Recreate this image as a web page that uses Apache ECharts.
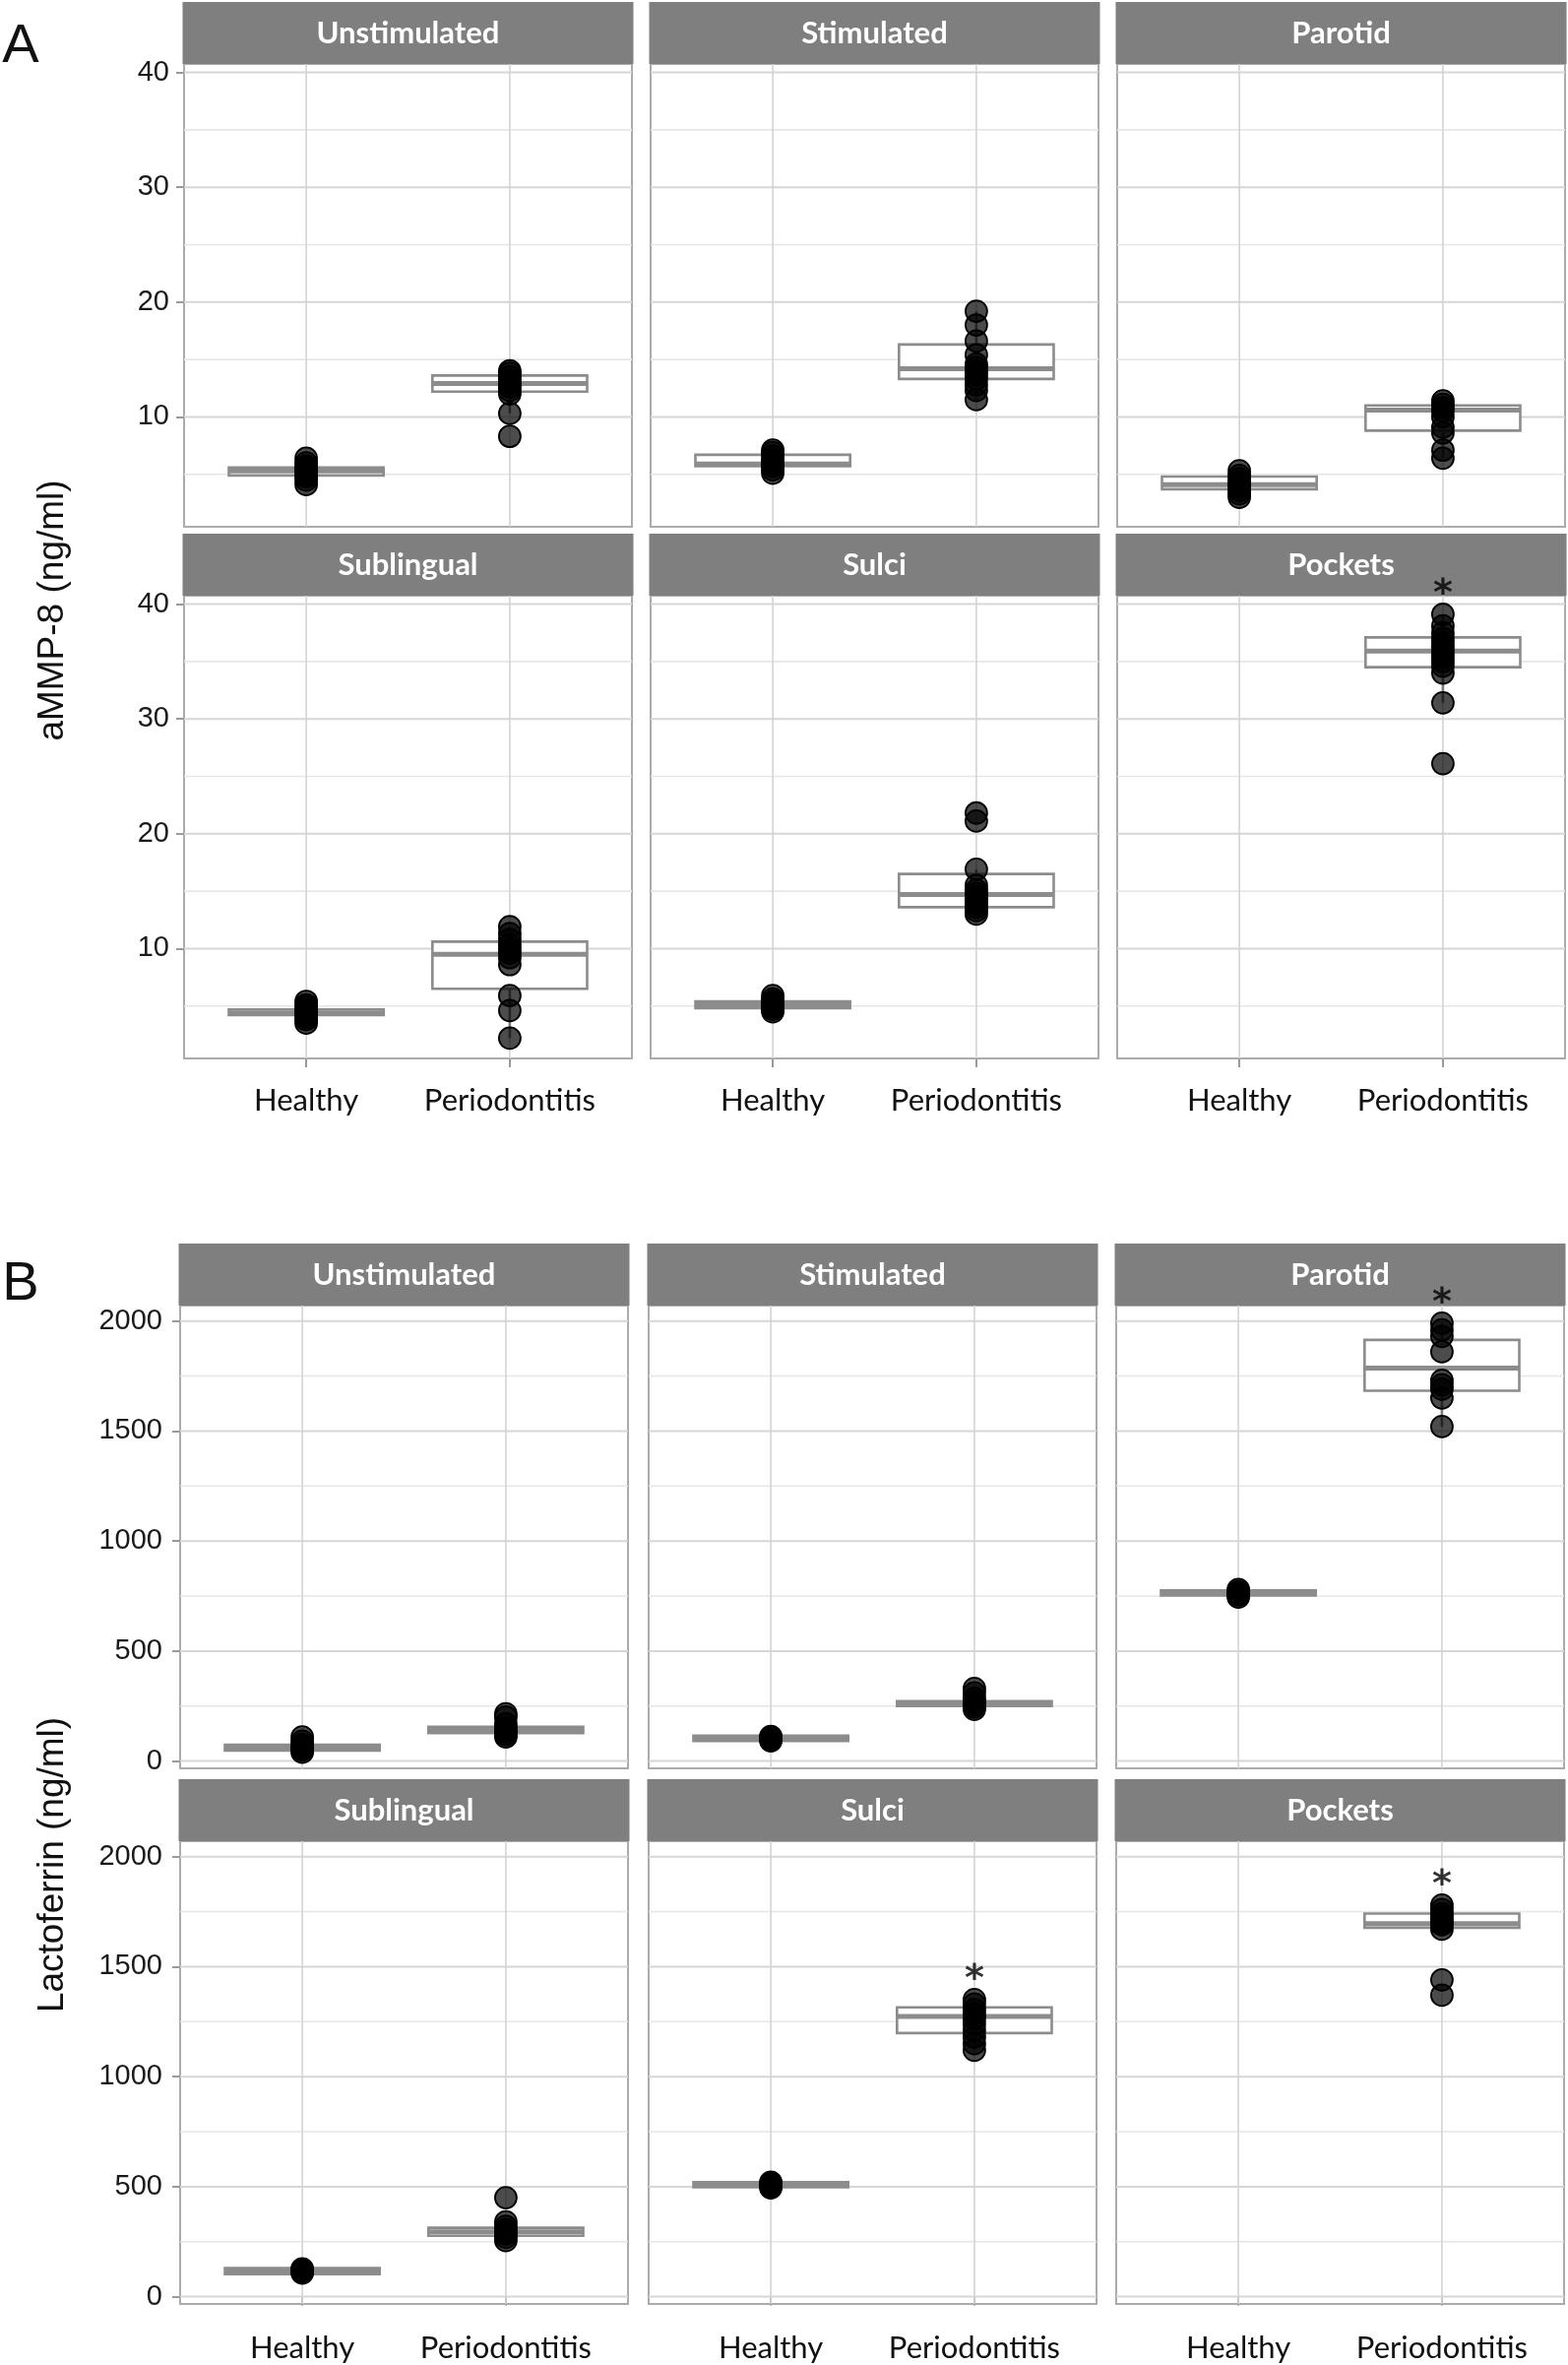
<!DOCTYPE html>
<html><head><meta charset="utf-8">
<script src="https://cdn.jsdelivr.net/npm/echarts@6/dist/echarts.min.js"></script>
<style>html,body{margin:0;padding:0;background:#fff}#chart{width:1593px;height:2402px}</style>
</head><body><div id="chart"></div>
<script>
// ---------------- DATA ----------------
const groups = ['Healthy', 'Periodontitis'];
const sites = ['Unstimulated', 'Stimulated', 'Parotid', 'Sublingual', 'Sulci', 'Pockets'];

const ammpTicks = [10, 20, 30, 40];
const ammpMinor = [5, 15, 25, 35];
const lactoTicks = [0, 500, 1000, 1500, 2000];
const lactoMinor = [250, 750, 1250, 1750];

// aMMP-8 (ng/ml) individual values, one list per site
const ammpHealthyPts = [
  [4.1, 4.5, 4.8, 5.0, 5.2, 5.3, 5.5, 5.7, 6.0, 6.4],
  [5.1, 5.4, 5.7, 5.9, 6.1, 6.3, 6.6, 6.9, 7.1],
  [3.0, 3.3, 3.6, 3.9, 4.1, 4.3, 4.6, 4.9, 5.3],
  [3.5, 3.8, 4.0, 4.2, 4.4, 4.6, 4.9, 5.1, 5.4],
  [4.5, 4.7, 4.9, 5.0, 5.2, 5.4, 5.6, 5.9],
  []
];
const ammpPerioPts = [
  [8.3, 10.3, 12.0, 12.3, 12.6, 12.9, 13.2, 13.5, 13.8, 14.0],
  [11.5, 12.3, 12.8, 13.3, 13.7, 14.0, 14.3, 14.6, 15.4, 16.6, 18.0, 19.2],
  [6.4, 7.1, 8.6, 9.1, 10.0, 10.5, 10.8, 11.1, 11.4],
  [2.2, 4.6, 5.9, 8.6, 9.2, 9.6, 9.9, 10.3, 10.8, 11.3, 11.9],
  [13.0, 13.3, 13.6, 13.9, 14.2, 14.5, 14.8, 15.1, 15.5, 16.9, 21.1, 21.8],
  [26.1, 31.4, 34.0, 34.6, 35.0, 35.4, 35.8, 36.2, 36.6, 37.0, 37.5, 38.1, 39.1]
];
// boxes: [Q1, median, Q3]
const ammpHealthyBox = [[4.9, 5.3, 5.6], [5.7, 5.9, 6.7], [3.7, 4.1, 4.8], [4.2, 4.4, 4.7], [4.8, 5.1, 5.4], null];
const ammpPerioBox = [[12.2, 12.9, 13.6], [13.3, 14.2, 16.3], [8.8, 10.6, 11.0], [6.5, 9.5, 10.6], [13.6, 14.7, 16.5], [34.5, 35.9, 37.1]];
const ammpStar = [0, 0, 0, 0, 0, 1];

// Lactoferrin (ng/ml)
const lactoHealthyPts = [
  [40, 50, 55, 60, 65, 75, 90, 110],
  [92, 98, 103, 108, 112],
  [745, 755, 762, 770, 780],
  [108, 112, 117, 122, 126],
  [495, 502, 508, 514, 520],
  []
];
const lactoPerioPts = [
  [110, 120, 130, 140, 150, 170, 200, 215],
  [235, 245, 255, 262, 270, 285, 310, 330],
  [1520, 1650, 1690, 1710, 1730, 1860, 1930, 1960, 1990],
  [255, 270, 285, 295, 305, 320, 340, 450],
  [1120, 1150, 1180, 1210, 1240, 1265, 1285, 1305, 1330, 1350],
  [1370, 1440, 1670, 1690, 1700, 1710, 1725, 1740, 1760, 1780]
];
const lactoHealthyBox = [[48, 60, 74], [91, 103, 116], [752, 764, 776], [103, 117, 130], [497, 508, 520], null];
const lactoPerioBox = [[127, 140, 156], [250, 260, 272], [1683, 1786, 1914], [277, 295, 313], [1198, 1273, 1315], [1677, 1695, 1741]];
const lactoStar = [0, 0, 1, 0, 1, 1];

// ---------------- LAYOUT ----------------
const W = 455, H = 470, STRIP = 63;
const X_MIN = 0.4, X_MAX = 2.6, BOX_HALF = 0.38;
const figures = [
  { letter: 'A', letterY: 48, title: 'aMMP-8 (ng/ml)', titleY: 620, lefts: [187, 661, 1135], tops: [65, 605],
    yMin: 0.43, yMax: 40.73, ticks: ammpTicks, minor: ammpMinor, labelMargin: 15, xLabelMargin: 27,
    hPts: ammpHealthyPts, pPts: ammpPerioPts, hBox: ammpHealthyBox, pBox: ammpPerioBox, star: ammpStar },
  { letter: 'B', letterY: 1305, title: 'Lactoferrin (ng/ml)', titleY: 1894, lefts: [183, 659, 1134], tops: [1326, 1870],
    yMin: -33, yMax: 2070, ticks: lactoTicks, minor: lactoMinor, labelMargin: 18, xLabelMargin: 29,
    hPts: lactoHealthyPts, pPts: lactoPerioPts, hBox: lactoHealthyBox, pBox: lactoPerioBox, star: lactoStar }
];

function whiskers(pts, box) {
  const [q1, med, q3] = box;
  const iqr = q3 - q1;
  const inLo = pts.filter(v => v >= q1 - 1.5 * iqr);
  const inHi = pts.filter(v => v <= q3 + 1.5 * iqr);
  const lo = inLo.length ? Math.min(q1, Math.min(...inLo)) : q1;
  const hi = inHi.length ? Math.max(q3, Math.max(...inHi)) : q3;
  return [lo, q1, med, q3, hi];
}

const grid = [], xAxis = [], yAxis = [], series = [], graphic = [];
let gi = 0;
figures.forEach(fig => {
  graphic.push({ type: 'text', x: 21, y: fig.letterY, z: 5,
    style: { text: fig.letter, fontFamily: 'Liberation Sans', fontSize: 56, fill: '#111', align: 'center', verticalAlign: 'middle' } });
  graphic.push({ type: 'text', x: 54, y: fig.titleY, rotation: Math.PI / 2, z: 5,
    style: { text: fig.title, fontFamily: 'Liberation Sans', fontSize: 37, fill: '#111', align: 'center', verticalAlign: 'middle' } });
  sites.forEach((site, i) => {
    const row = Math.floor(i / 3), col = i % 3;
    const left = fig.lefts[col], top = fig.tops[row];
    grid.push({ left: left, top: top, width: W, height: H, show: true, backgroundColor: '#fff',
      borderColor: '#ababab', borderWidth: 2, containLabel: false });
    graphic.push({ type: 'rect', shape: { x: left - 1.5, y: top - STRIP, width: W + 3, height: STRIP }, z: 1,
      style: { fill: '#7f7f7f' } });
    graphic.push({ type: 'text', x: left + W / 2, y: top - STRIP / 2, z: 2,
      style: { text: site, fontFamily: 'Lato', fontWeight: 'bold', fontSize: 31, fill: '#fff', align: 'center', verticalAlign: 'middle' } });
    xAxis.push({ gridIndex: gi, type: 'value', min: X_MIN, max: X_MAX,
      axisLine: { show: false }, splitLine: { show: false },
      axisTick: { show: row === 1, customValues: [1, 2], length: 9, lineStyle: { color: '#9a9a9a', width: 2 } },
      axisLabel: { show: row === 1, customValues: [1, 2], margin: fig.xLabelMargin,
        formatter: v => groups[Math.round(v) - 1] || '', fontFamily: 'Lato', fontSize: 31, color: '#111' } });
    yAxis.push({ gridIndex: gi, type: 'value', min: fig.yMin, max: fig.yMax,
      axisLine: { show: false }, splitLine: { show: false },
      axisTick: { show: col === 0, customValues: fig.ticks, length: 8, lineStyle: { color: '#9a9a9a', width: 2 } },
      axisLabel: { show: col === 0, customValues: fig.ticks, margin: fig.labelMargin, formatter: v => String(v),
        fontFamily: 'Liberation Sans', fontSize: 29, color: '#1a1a1a' } });

    // grid lines drawn through the axes' scales
    const gl = [];
    fig.minor.forEach(v => gl.push([v, 1]));
    fig.ticks.forEach(v => gl.push([v, 0]));
    groups.forEach((g, k) => gl.push([k + 1, 2]));
    const yMinF = fig.yMin;
    series.push({ type: 'custom', xAxisIndex: gi, yAxisIndex: gi, z: 1, silent: true, data: gl,
      encode: { x: 0 },
      renderItem: (params, api) => {
        const v = api.value(0), kind = api.value(1);
        const cs = params.coordSys;
        if (kind === 2) {
          const p = api.coord([v, yMinF]);
          return { type: 'line', shape: { x1: p[0], y1: cs.y, x2: p[0], y2: cs.y + cs.height },
            style: { stroke: '#d4d4d4', lineWidth: 1.6 } };
        }
        const p = api.coord([X_MIN, v]);
        return { type: 'line', shape: { x1: cs.x, y1: p[1], x2: cs.x + cs.width, y2: p[1] },
          style: { stroke: kind === 0 ? '#d6d6d6' : '#e6e6e6', lineWidth: kind === 0 ? 2 : 1.6 } };
      } });

    // boxes
    const boxes = [];
    [[fig.hBox[i], fig.hPts[i]], [fig.pBox[i], fig.pPts[i]]].forEach(([b, pts], k) => {
      if (b) boxes.push([k + 1].concat(whiskers(pts, b)));
    });
    series.push({ type: 'custom', xAxisIndex: gi, yAxisIndex: gi, z: 2, silent: true, data: boxes,
      encode: { x: 0, y: [1, 2, 3, 4, 5] },
      renderItem: (params, api) => {
        const x = api.value(0), lo = api.value(1), q1 = api.value(2), med = api.value(3), q3 = api.value(4), hi = api.value(5);
        const tl = api.coord([x - BOX_HALF, q3]), br = api.coord([x + BOX_HALF, q1]);
        const pLo = api.coord([x, lo]), pQ1 = api.coord([x, q1]), pQ3 = api.coord([x, q3]), pHi = api.coord([x, hi]);
        const mL = api.coord([x - BOX_HALF, med]), mR = api.coord([x + BOX_HALF, med]);
        return { type: 'group', children: [
          { type: 'line', shape: { x1: pLo[0], y1: pLo[1], x2: pQ1[0], y2: pQ1[1] }, style: { stroke: '#7a7a7a', lineWidth: 2.6 } },
          { type: 'line', shape: { x1: pQ3[0], y1: pQ3[1], x2: pHi[0], y2: pHi[1] }, style: { stroke: '#7a7a7a', lineWidth: 2.6 } },
          { type: 'rect', shape: { x: tl[0], y: tl[1], width: br[0] - tl[0], height: br[1] - tl[1] },
            style: { fill: '#fff', stroke: '#8c8c8c', lineWidth: 2.6 } },
          { type: 'line', shape: { x1: mL[0], y1: mL[1], x2: mR[0], y2: mR[1] }, style: { stroke: '#8c8c8c', lineWidth: 5 } }
        ] };
      } });

    // points
    const pts = [];
    fig.hPts[i].forEach(v => pts.push([1, v]));
    fig.pPts[i].forEach(v => pts.push([2, v]));
    series.push({ type: 'scatter', xAxisIndex: gi, yAxisIndex: gi, z: 3, silent: true, data: pts,
      symbolSize: 22, itemStyle: { color: 'rgba(0,0,0,0.7)', borderColor: '#000', borderWidth: 1.8, opacity: 1 } });

    // significance asterisk
    if (fig.star[i]) {
      const top = Math.max(...fig.pPts[i]);
      series.push({ type: 'scatter', xAxisIndex: gi, yAxisIndex: gi, z: 10, zlevel: 0, silent: true, clip: false,
        data: [[2, top]], symbolSize: 2, itemStyle: { color: 'rgba(0,0,0,0)', borderWidth: 0 },
        label: { show: true, formatter: '*', position: 'top', distance: 0, fontFamily: 'DejaVu Sans',
          fontWeight: 'bold', fontSize: 38, color: '#000' } });
    }
    gi++;
  });
});

const chart = echarts.init(document.getElementById('chart'), null, { renderer: 'canvas' });
chart.setOption({ animation: false, backgroundColor: '#fff', grid, xAxis, yAxis, series, graphic });
</script></body></html>
